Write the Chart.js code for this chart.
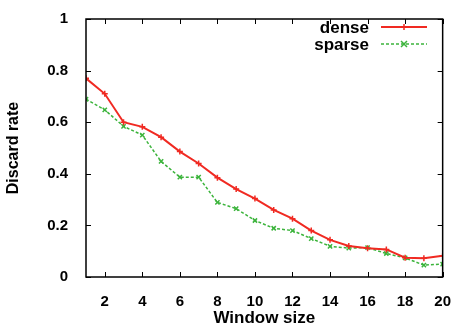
<!DOCTYPE html>
<html>
<head>
<meta charset="utf-8">
<script src="https://cdn.jsdelivr.net/npm/chart.js@4.4.0/dist/chart.umd.min.js"></script>
<style>
  html, body { margin: 0; padding: 0; background: #fff; }
  #wrap { width: 459px; height: 329px; }
</style>
</head>
<body>
<div id="wrap"><canvas id="chart" width="459" height="329"></canvas></div>
<script>
// window sizes on the x axis
const windowSizes = [1, 2, 3, 4, 5, 6, 7, 8, 9, 10, 11, 12, 13, 14, 15, 16, 17, 18, 19, 20];
// discard rate
const denseRate = [0.77, 0.71, 0.60, 0.582, 0.542, 0.486, 0.44, 0.385, 0.341, 0.304,
                   0.26, 0.226, 0.18, 0.144, 0.12, 0.111, 0.107, 0.075, 0.073, 0.082];
const sparseRate = [0.689, 0.648, 0.584, 0.55, 0.448, 0.387, 0.387, 0.289, 0.265, 0.219,
                    0.189, 0.18, 0.149, 0.119, 0.112, 0.114, 0.091, 0.074, 0.046, 0.05];
const xTicks = [2, 4, 6, 8, 10, 12, 14, 16, 18, 20];
const yTicks = [0, 0.2, 0.4, 0.6, 0.8, 1];

const RED = '#f02a22';
const GREEN = '#3cb43c';
const FONT = 'Liberation Sans, Arial, sans-serif';

// gnuplot style box with ticks pointing inwards on all four sides
const framePlugin = {
  id: 'frame',
  afterDatasetsDraw(chart) {
    const { ctx, chartArea: a, scales } = chart;
    ctx.save();
    ctx.strokeStyle = '#000';
    ctx.lineWidth = 1.5;
    ctx.strokeRect(a.left, a.top, a.right - a.left, a.bottom - a.top);
    ctx.lineWidth = 1;
    ctx.beginPath();
    const t = 5;
    xTicks.forEach(v => {
      const x = Math.round(scales.x.getPixelForValue(v)) + 0.5;
      ctx.moveTo(x, a.bottom); ctx.lineTo(x, a.bottom - t);
      ctx.moveTo(x, a.top); ctx.lineTo(x, a.top + t);
    });
    yTicks.forEach(v => {
      const y = Math.round(scales.y.getPixelForValue(v)) + 0.5;
      ctx.moveTo(a.left, y); ctx.lineTo(a.left + t, y);
      ctx.moveTo(a.right, y); ctx.lineTo(a.right - t, y);
    });
    ctx.stroke();
    ctx.restore();
  }
};

// key: label on the left, line sample on the right
const keyPlugin = {
  id: 'key',
  afterDraw(chart) {
    const { ctx } = chart;
    const textRight = 369, x0 = 381, x1 = 427;
    ctx.save();
    ctx.font = 'bold 17px ' + FONT;
    ctx.textAlign = 'right';
    ctx.textBaseline = 'middle';
    chart.data.datasets.forEach((ds, i) => {
      const y = 27 + i * 17;
      ctx.fillStyle = '#000';
      ctx.fillText(ds.label, textRight, y + 1);
      ctx.strokeStyle = ds.borderColor;
      ctx.lineWidth = ds.borderWidth;
      ctx.setLineDash(ds.borderDash || []);
      ctx.beginPath();
      ctx.moveTo(x0, y); ctx.lineTo(x1, y);
      ctx.stroke();
      ctx.setLineDash([]);
      const mx = (x0 + x1) / 2, r = 3;
      ctx.lineWidth = 1.5;
      ctx.beginPath();
      if (ds.pointStyle === 'cross') {
        ctx.moveTo(mx - r, y); ctx.lineTo(mx + r, y);
        ctx.moveTo(mx, y - r); ctx.lineTo(mx, y + r);
      } else {
        ctx.moveTo(mx - r, y - r); ctx.lineTo(mx + r, y + r);
        ctx.moveTo(mx - r, y + r); ctx.lineTo(mx + r, y - r);
      }
      ctx.stroke();
    });
    ctx.restore();
  }
};

new Chart(document.getElementById('chart'), {
  type: 'line',
  data: {
    datasets: [
      {
        label: 'dense',
        data: windowSizes.map((w, i) => ({ x: w, y: denseRate[i] })),
        borderColor: RED,
        backgroundColor: RED,
        borderWidth: 2,
        pointStyle: 'cross',
        pointRadius: 3,
        pointBorderWidth: 1.5,
        tension: 0
      },
      {
        label: 'sparse',
        data: windowSizes.map((w, i) => ({ x: w, y: sparseRate[i] })),
        borderColor: GREEN,
        backgroundColor: GREEN,
        borderWidth: 1.5,
        borderDash: [3, 2],
        pointStyle: 'crossRot',
        pointRadius: 3,
        pointBorderWidth: 1.5,
        tension: 0
      }
    ]
  },
  options: {
    responsive: false,
    animation: false,
    layout: { padding: { top: 14, right: 11, left: 0, bottom: 0 } },
    plugins: { legend: { display: false }, tooltip: { enabled: false } },
    scales: {
      x: {
        type: 'linear',
        min: 1,
        max: 20,
        afterBuildTicks: s => { s.ticks = xTicks.map(v => ({ value: v })); },
        afterFit: s => { s.height = 52; },
        grid: { display: false },
        border: { display: false },
        ticks: { color: '#000', padding: 8, maxRotation: 0, font: { family: FONT, size: 15, weight: 'bold' } },
        title: { display: true, text: 'Window size', color: '#000', padding: { top: 0, bottom: 0 },
                 font: { family: FONT, size: 17, weight: 'bold' } }
      },
      y: {
        min: 0,
        max: 1,
        afterBuildTicks: s => { s.ticks = yTicks.map(v => ({ value: v })); },
        afterFit: s => { s.width = 86; },
        grid: { display: false },
        border: { display: false },
        ticks: { color: '#000', padding: 10, callback: v => String(v),
                 font: { family: FONT, size: 15, weight: 'bold' } },
        title: { display: true, text: 'Discard rate', color: '#000', padding: { top: 4, bottom: 0 },
                 font: { family: FONT, size: 16, weight: 'bold' } }
      }
    }
  },
  plugins: [framePlugin, keyPlugin]
});
</script>
</body>
</html>
